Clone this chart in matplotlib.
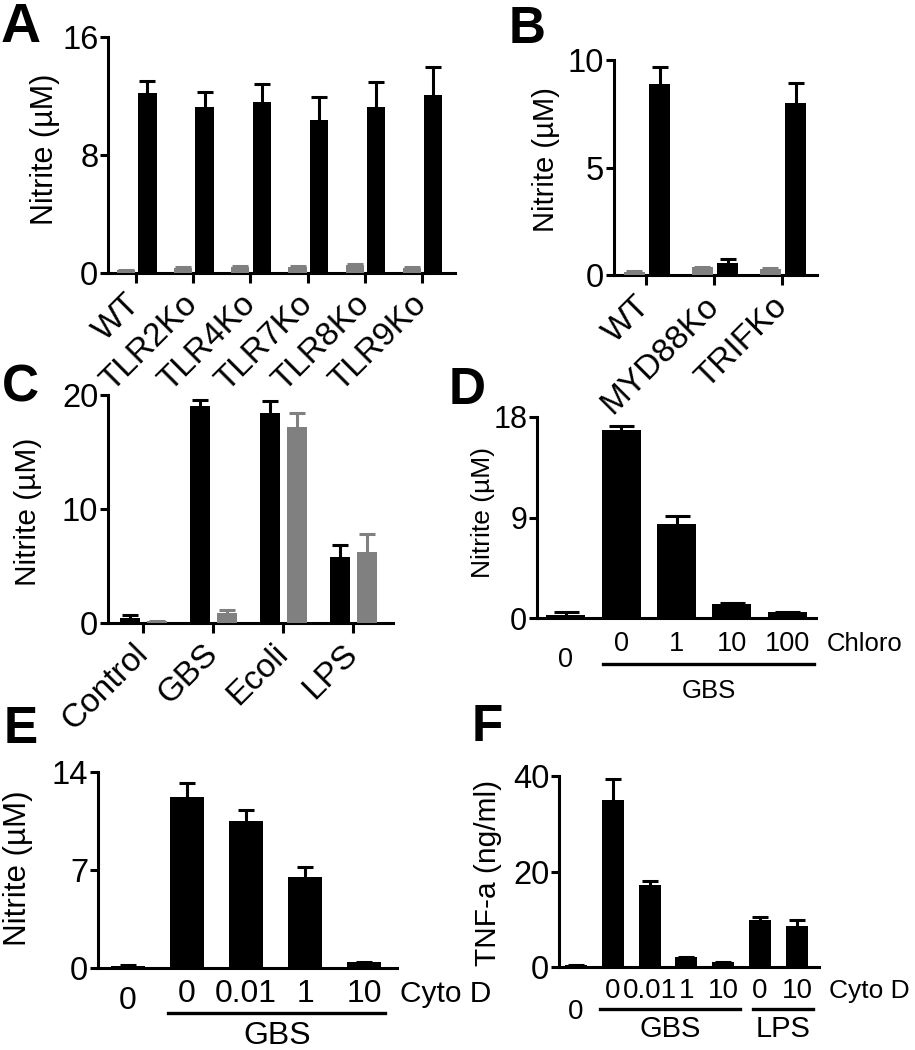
"""
Six-panel nitrite / TNF-a bar figure (A-F), GraphPad-like style.
"""
import numpy as np
import matplotlib
matplotlib.use("Agg")
import matplotlib.pyplot as plt

plt.rcParams["font.family"] = ["Liberation Sans", "DejaVu Sans"]

# ── Colours ───────────────────────────────────────────────────────
_BLACK = "#000000"
_GREY = "#808080"

# ── Data ──────────────────────────────────────────────────────────
a_labels = ["WT", "TLR2Ko", "TLR4Ko", "TLR7Ko", "TLR8Ko", "TLR9Ko"]
a_ctrl = [0.2, 0.35, 0.4, 0.4, 0.55, 0.35]
a_ctrl_err = [0.03, 0.03, 0.05, 0.05, 0.05, 0.03]
a_stim = [12.2, 11.25, 11.6, 10.4, 11.25, 12.1]
a_stim_err = [0.8, 1.05, 1.2, 1.5, 1.7, 1.9]

b_labels = ["WT", "MYD88Ko", "TRIFKo"]
b_ctrl = [0.15, 0.35, 0.3]
b_ctrl_err = [0.02, 0.03, 0.03]
b_stim = [8.88, 0.56, 8.0]
b_stim_err = [0.79, 0.18, 0.93]

c_labels = ["Control", "GBS", "Ecoli", "LPS"]
c_black = [0.44, 19.07, 18.45, 5.8]
c_black_err = [0.29, 0.49, 1.05, 1.06]
c_grey = [0.15, 0.88, 17.2, 6.25]
c_grey_err = [0.02, 0.29, 1.2, 1.57]

d_doses = ["0", "0", "1", "10", "100"]
d_vals = [0.3, 16.87, 8.42, 1.28, 0.54]
d_err = [0.2, 0.33, 0.68, 0.03, 0.03]

e_doses = ["0", "0", "0.01", "1", "10"]
e_vals = [0.17, 12.2, 10.5, 6.48, 0.43]
e_err = [0.02, 1.0, 0.77, 0.76, 0.03]

f_doses = ["0", "0", "0.01", "1", "10", "0", "10"]
f_vals = [0.35, 35.06, 17.2, 2.0, 0.97, 9.74, 8.63]
f_err = [0.05, 4.34, 0.9, 0.1, 0.1, 0.83, 1.27]

W, H = 915, 1050


def _axes(fig, left, right, top, bottom):
    return fig.add_axes([left / W, 1 - bottom / H, (right - left) / W, (bottom - top) / H])


def _style(ax, ylim, yticks, ylabel, lab_x, lab_y, lab_fs=22, tick_fs=23.5):
    for side in ("top", "right"):
        ax.spines[side].set_visible(False)
    for side in ("left", "bottom"):
        ax.spines[side].set_linewidth(2.2)
    ax.set_ylim(*ylim)
    ax.set_yticks(yticks)
    ax.tick_params(axis="y", length=6, width=2.2, labelsize=tick_fs, pad=1)
    ax.set_ylabel(ylabel, fontsize=lab_fs)
    ax.yaxis.set_label_coords(lab_x, lab_y)


def _bars(ax, x, vals, err, color, width, capsize):
    x = np.asarray(x, dtype=float)
    vals = np.asarray(vals)
    tops = vals + np.asarray(err)
    ax.bar(x, vals, width=width, color=color, zorder=3)
    # upper half error bars only (GraphPad style)
    ax.vlines(x, vals, tops, color=color, lw=2.2, zorder=3)
    ax.plot(x, tops, ls="none", marker="_", ms=capsize, mew=2.2, color=color, zorder=3)


def _grouped(ax, labels, left_vals, left_err, left_col, right_vals, right_err,
             right_col, offs, width, xlim, capsize=11):
    x = np.arange(len(labels))
    _bars(ax, x + offs[0], left_vals, left_err, left_col, width, capsize)
    _bars(ax, x + offs[1], right_vals, right_err, right_col, width, capsize)
    ax.set_xlim(*xlim)
    ax.set_xticks(x, labels, rotation=45, ha="right", va="center",
                  rotation_mode="anchor")
    ax.tick_params(axis="x", length=7, width=2.2, labelsize=24, pad=12)


def _dose_labels(ax, doses, first_y, y, fs, family=None):
    kw = dict(ha="center", va="center", fontsize=fs,
              transform=ax.get_xaxis_transform())
    if family:
        kw["family"] = family
    for i, lab in enumerate(doses):
        ax.text(i, first_y if i == 0 else y, lab, **kw)


def _group_line(ax, x0, x1, y, text, ty, fs):
    tr = ax.get_xaxis_transform()
    ax.plot([x0, x1], [y, y], color=_BLACK, lw=2.4, transform=tr, clip_on=False)
    ax.text((x0 + x1) / 2, ty, text, ha="center", va="center", fontsize=fs, transform=tr)


def _letter(fig, x, y, s, fs=37):
    fig.text(x / W, 1 - y / H, s, fontsize=fs, fontweight="bold", ha="left", va="top")


fig = plt.figure(figsize=(W / 100, H / 100), dpi=100, facecolor="white")

# A
ax = _axes(fig, 108, 455, 37, 273)
_grouped(ax, a_labels, a_ctrl, a_ctrl_err, _GREY, a_stim, a_stim_err, _BLACK,
         (-0.175, 0.2), 0.32, (-0.49, 5.58))
_style(ax, (0, 16), [0, 8, 16], "Nitrite (µM)", -0.138, 0.525, 22)

# B
ax = _axes(fig, 614, 817, 60, 275)
_grouped(ax, b_labels, b_ctrl, b_ctrl_err, _GREY, b_stim, b_stim_err, _BLACK,
         (-0.175, 0.2), 0.31, (-0.47, 2.51))
_style(ax, (0, 10), [0, 5, 10], "Nitrite (µM)", -0.266, 0.535, 21)

# C
ax = _axes(fig, 108, 393, 395, 623)
_grouped(ax, c_labels, c_black, c_black_err, _BLACK, c_grey, c_grey_err, _GREY,
         (-0.185, 0.2), 0.29, (-0.5, 3.57))
_style(ax, (0, 20), [0, 10, 20], "Nitrite (µM)", -0.232, 0.487, 21.5)

# D
ax = _axes(fig, 537, 816, 417, 618)
_bars(ax, np.arange(len(d_vals)), d_vals, d_err, _BLACK, 0.7, 18)
ax.set_xlim(-0.52, 4.52)
ax.set_xticks([])
_style(ax, (0, 18), [0, 9, 18], "Nitrite (µM)", -0.15, 0.527, 19, 22)
_dose_labels(ax, d_doses, -0.21, -0.129, 19.5)
ax.text(1.04, -0.129, "Chloro", ha="left", va="center", fontsize=18.5,
        transform=ax.transAxes)
_group_line(ax, 0.67, 4.49, -0.229, "GBS", -0.363, 18.5)

# E
ax = _axes(fig, 98, 397, 772, 968)
_bars(ax, np.arange(len(e_vals)), e_vals, e_err, _BLACK, 0.58, 12)
ax.set_xlim(-0.51, 4.56)
ax.set_xticks([])
_style(ax, (0, 14), [0, 7, 14], "Nitrite (µM)", -0.217, 0.51, 22.5)
_dose_labels(ax, e_doses, -0.168, -0.133, 23)
ax.text(1.01, -0.133, "Cyto D", ha="left", va="center", fontsize=21.5,
        transform=ax.transAxes)
_group_line(ax, 0.68, 4.36, -0.23, "GBS", -0.347, 23)

# F
ax = _axes(fig, 559, 819, 776, 967)
_bars(ax, np.arange(len(f_vals)), f_vals, f_err, _BLACK, 0.6, 11)
ax.set_xlim(-0.46, 6.6)
ax.set_xticks([])
_style(ax, (0, 40), [0, 20, 40], "TNF-a (ng/ml)", -0.219, 0.49, 21.5)
_dose_labels(ax, f_doses, -0.236, -0.126, 20,
             family=["Liberation Sans Narrow", "Liberation Sans"])
ax.text(1.04, -0.126, "Cyto D", ha="left", va="center", fontsize=19,
        transform=ax.transAxes)
_group_line(ax, 0.65, 4.46, -0.22, "GBS", -0.325, 21)
_group_line(ax, 4.81, 6.44, -0.22, "LPS", -0.325, 21)

# panel letters
_letter(fig, 1, 2, "A", 40)
_letter(fig, 509, 5, "B")
_letter(fig, 2, 364, "C")
_letter(fig, 449, 366, "D")
_letter(fig, 4, 705, "E")
_letter(fig, 472, 703, "F")

fig.savefig("out.png", dpi=100, facecolor="white")
